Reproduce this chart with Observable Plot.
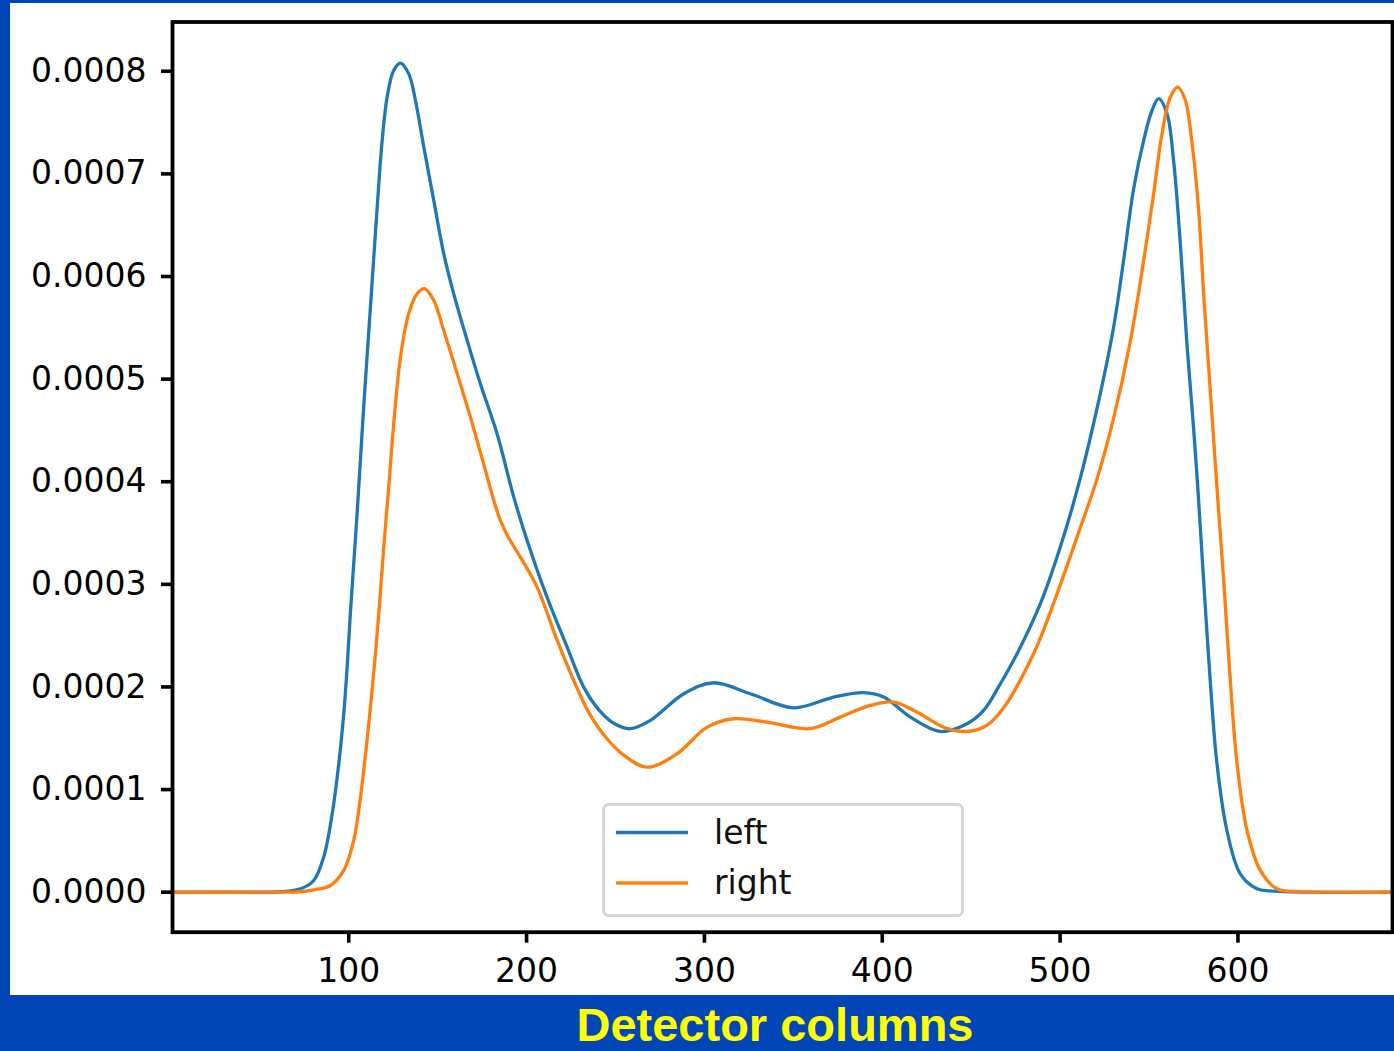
<!DOCTYPE html>
<html>
<head>
<meta charset="utf-8">
<script src="https://cdn.jsdelivr.net/npm/d3@7"></script>
<script src="https://cdn.jsdelivr.net/npm/@observablehq/plot@0.6"></script>
<style>
  html, body { margin: 0; padding: 0; }
  body { width: 1394px; height: 1051px; background: #0046B6; position: relative; overflow: hidden; }
  #panel { position: absolute; left: 10px; top: 3px; width: 1384px; height: 992px; background: #ffffff; }
  #overlay { position: absolute; left: 0; top: 0; }
</style>
</head>
<body>
<div id="panel"></div>
<svg id="overlay" width="1394" height="1051"></svg>
<script>
// Series names and colours
const seriesNames = ["left", "right"];
const seriesColors = ["#1f77b4", "#ff7f0e"];

// KDE curve "left": [detector column, density]
const leftCurve = [
  [1, 0], [40, 0], [62, 0.004e-4], [72.9, 0.033e-4], [80.3, 0.114e-4], [85.9, 0.341e-4],
  [90.7, 0.764e-4], [94.4, 1.251e-4], [97.2, 1.739e-4], [99.1, 2.193e-4], [100.9, 2.714e-4],
  [102.8, 3.201e-4], [104.7, 3.688e-4], [108.4, 4.727e-4], [112.2, 5.702e-4], [116.0, 6.677e-4],
  [118.8, 7.327e-4], [121.6, 7.749e-4], [125.3, 8.009e-4], [129.1, 8.080e-4], [133.7, 7.977e-4],
  [137.5, 7.717e-4], [142.2, 7.262e-4], [147.8, 6.742e-4], [153.4, 6.223e-4], [159.0, 5.833e-4],
  [166.6, 5.377e-4], [174.0, 4.955e-4], [183.4, 4.468e-4], [192.8, 3.850e-4], [200.3, 3.428e-4],
  [211.5, 2.875e-4], [222.8, 2.388e-4], [232.1, 1.998e-4], [241.5, 1.760e-4], [250.0, 1.636e-4],
  [258.4, 1.593e-4], [269.6, 1.674e-4], [288.4, 1.934e-4], [305.2, 2.041e-4], [325.8, 1.934e-4],
  [350.2, 1.797e-4], [372.7, 1.901e-4], [389.5, 1.944e-4], [400.8, 1.901e-4], [415.8, 1.706e-4],
  [432.6, 1.566e-4], [447.6, 1.641e-4], [457.0, 1.771e-4], [466.4, 2.031e-4], [475.8, 2.324e-4],
  [488.9, 2.811e-4], [500.1, 3.363e-4], [511.3, 4.032e-4], [522.6, 4.858e-4], [530.1, 5.507e-4],
  [535.7, 6.157e-4], [541.3, 6.850e-4], [546.9, 7.320e-4], [551.7, 7.620e-4], [555.4, 7.733e-4],
  [560.1, 7.587e-4], [563.8, 7.132e-4], [567.6, 6.320e-4], [571.3, 5.345e-4], [575.0, 4.532e-4],
  [577.7, 3.867e-4], [580.7, 3.038e-4], [584.4, 2.063e-4], [588.2, 1.252e-4], [593.8, 0.601e-4],
  [601.3, 0.179e-4], [610.7, 0.033e-4], [618.2, 0.012e-4], [640, 0], [687, 0]
];

// KDE curve "right": [detector column, density]
const rightCurve = [
  [1, 0], [50, 0], [72, 0.004e-4], [80.5, 0.023e-4], [89.7, 0.065e-4], [97.2, 0.212e-4],
  [102.8, 0.504e-4], [106.6, 0.926e-4], [110.3, 1.479e-4], [114.0, 2.129e-4], [116.9, 2.714e-4],
  [119.7, 3.363e-4], [122.4, 3.930e-4], [125.3, 4.566e-4], [129.1, 5.215e-4], [133.7, 5.638e-4],
  [138.5, 5.833e-4], [142.6, 5.881e-4], [147.8, 5.767e-4], [153.4, 5.475e-4], [161.0, 5.053e-4],
  [168.4, 4.630e-4], [175.9, 4.170e-4], [181.5, 3.820e-4], [185.3, 3.620e-4], [190.0, 3.450e-4],
  [196.5, 3.265e-4], [205.9, 2.973e-4], [217.2, 2.453e-4], [226.5, 2.063e-4], [235.0, 1.750e-4],
  [245.0, 1.500e-4], [255.0, 1.330e-4], [267.8, 1.218e-4], [284.6, 1.349e-4], [301.5, 1.608e-4],
  [316.5, 1.690e-4], [335.2, 1.657e-4], [359.5, 1.593e-4], [376.4, 1.706e-4], [393.3, 1.820e-4],
  [406.4, 1.852e-4], [419.6, 1.754e-4], [434.5, 1.608e-4], [445.8, 1.566e-4], [457.0, 1.608e-4],
  [466.4, 1.754e-4], [485.1, 2.324e-4], [498.3, 2.909e-4], [509.5, 3.460e-4], [520.8, 4.030e-4],
  [530.1, 4.620e-4], [539.5, 5.370e-4], [547.0, 6.157e-4], [552.6, 6.807e-4], [557.3, 7.392e-4],
  [562.0, 7.749e-4], [566.1, 7.846e-4], [570.4, 7.717e-4], [574.2, 7.295e-4], [577.9, 6.644e-4],
  [580.7, 5.833e-4], [583.5, 5.128e-4], [586.3, 4.422e-4], [589.1, 3.720e-4], [592.0, 3.038e-4],
  [595.7, 2.063e-4], [599.5, 1.252e-4], [605.1, 0.601e-4], [612.6, 0.212e-4], [621.9, 0.033e-4],
  [635, 0.006e-4], [660, 0], [687, 0]
];

// Axis ticks and labels
const xTicks = [100, 200, 300, 400, 500, 600];
const yTicks = [0, 0.0001, 0.0002, 0.0003, 0.0004, 0.0005, 0.0006, 0.0007, 0.0008];
const yTickLabels = ["0.0000", "0.0001", "0.0002", "0.0003", "0.0004", "0.0005", "0.0006", "0.0007", "0.0008"];
const xLabel = "Detector columns";

const rows = [
  ...leftCurve.map(([x, y]) => ({x, y, series: seriesNames[0]})),
  ...rightCurve.map(([x, y]) => ({x, y, series: seriesNames[1]}))
];

const chart = Plot.plot({
  width: 1384,
  height: 992,
  marginLeft: 162,
  marginRight: 2,
  marginTop: 18.5,
  marginBottom: 63.3,
  style: {background: "white", color: "black", fontFamily: "DejaVu Sans", fontSize: "33px", overflow: "visible"},
  x: {domain: [0.9, 686.9]},
  y: {domain: [-0.000039, 0.000848]},
  color: {domain: seriesNames, range: seriesColors},
  marks: [
    Plot.line(rows, {x: "x", y: "y", z: "series", stroke: "series", strokeWidth: 3.3, curve: "catmull-rom"}),
    Plot.frame({stroke: "black", strokeWidth: 3.8}),
    Plot.axisX({ticks: xTicks, tickSize: 11, tickPadding: 15, strokeWidth: 3.6, fontSize: 33, fontFamily: "DejaVu Sans", label: null}),
    Plot.axisY({ticks: yTicks, tickSize: 11, tickPadding: 15, strokeWidth: 3.6, fontSize: 33, fontFamily: "DejaVu Sans", label: null,
      tickFormat: (d) => yTickLabels[yTicks.indexOf(d)]})
  ]
});
document.getElementById("panel").appendChild(chart);

// Legend and caption (overlay)
const ov = d3.select("#overlay");
const lg = ov.append("g");
lg.append("rect").attr("x", 603.5).attr("y", 804.5).attr("width", 359).attr("height", 111)
  .attr("rx", 5).attr("fill", "white").attr("fill-opacity", 0.8)
  .attr("stroke", "#d6d6d6").attr("stroke-width", 3);
seriesNames.forEach((name, i) => {
  const y = 832.5 + i * 50.5;
  lg.append("line").attr("x1", 616).attr("x2", 688).attr("y1", y).attr("y2", y)
    .attr("stroke", seriesColors[i]).attr("stroke-width", 3.5);
  lg.append("text").attr("x", 714).attr("y", y + 11).attr("font-family", "DejaVu Sans")
    .attr("font-size", 33).attr("fill", "#111").text(name);
});
ov.append("text").attr("x", 775).attr("y", 1041).attr("text-anchor", "middle")
  .attr("font-family", "Liberation Sans, Arial, sans-serif").attr("font-weight", "bold")
  .attr("font-size", 47).attr("fill", "#ffff00").text(xLabel);
</script>
</body>
</html>
